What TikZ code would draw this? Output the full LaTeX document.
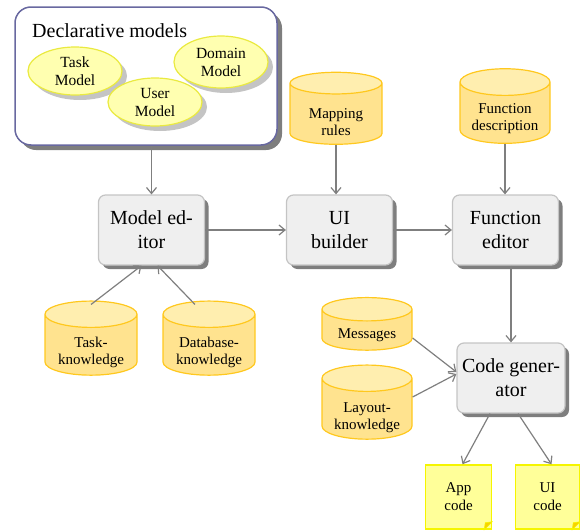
\documentclass[tikz,border=0pt]{standalone}
\usepackage{fontspec}
\setmainfont{Liberation Serif}
\usetikzlibrary{shapes.geometric,arrows.meta,shadows}
\definecolor{cylbody}{HTML}{FFE38F}
\definecolor{cyltop}{HTML}{FFEEAF}
\definecolor{cylline}{HTML}{FFC81E}
\definecolor{elfill}{HTML}{FFFFB0}
\definecolor{elline}{HTML}{EAEA40}
\definecolor{boxfill}{HTML}{EFEFEF}
\definecolor{boxline}{HTML}{C4C4C4}
\definecolor{shadowgray}{HTML}{7E7E7E}
\definecolor{lightshadow}{HTML}{C4C4C4}
\definecolor{declline}{HTML}{6868A0}
\definecolor{arrowgray}{HTML}{7F7F7F}
\definecolor{notefill}{HTML}{FFFF99}
\definecolor{noteline}{HTML}{F5F500}
\newcommand\cyltx[2]{\raisebox{-#1}[\height][\depth]{\begin{tabular}{@{}c@{}}#2\end{tabular}}}
\begin{document}
\begin{tikzpicture}[x=1pt,y=-1pt,
  proc/.style={rectangle, rounded corners=7pt, draw=boxline, line width=1.2pt, fill=boxfill,
    minimum width=106pt, minimum height=70pt, align=center, inner sep=2pt,
    font=\fontsize{20}{24}\selectfont,
    drop shadow={shadow xshift=4pt, shadow yshift=-4pt, opacity=1, fill=shadowgray}},
  cyl/.style={cylinder, shape border rotate=90, aspect=0.4, draw=cylline, line width=1.2pt,
    cylinder uses custom fill, cylinder body fill=cylbody, cylinder end fill=cyltop,
    align=center, inner sep=0pt, font=\fontsize{15}{17}\selectfont},
  ell/.style={ellipse, draw=elline, line width=1.2pt, fill=elfill, align=center, inner sep=0pt,
    minimum width=94pt, minimum height=48pt, font=\fontsize{15.5}{18}\selectfont,
    drop shadow={shadow xshift=5pt, shadow yshift=-5pt, opacity=1, fill=lightshadow}},
  note/.style={rectangle, draw=noteline, line width=1.5pt, fill=notefill, align=center,
    minimum width=66pt, minimum height=64pt, inner sep=0pt, font=\fontsize{15}{18}\selectfont},
  arr/.style={draw=arrowgray, line width=1.2pt, -{Straight Barb[length=6pt,width=10pt]}}
]
\useasboundingbox (0,0) rectangle (580,530);

% Declarative models container
\node[rectangle, rounded corners=16pt, draw=declline, line width=1.5pt, fill=white,
  minimum width=262pt, minimum height=138pt,
  drop shadow={shadow xshift=5pt, shadow yshift=-5pt, opacity=1, fill=shadowgray}]
  (decl) at (146,76) {};
\node[font=\fontsize{20}{24}\selectfont, anchor=base west, inner sep=0pt] (title) at (32,37) {Declarative models};
\node[ell] (task) at (75,71) {Task\\Model};
\node[ell] (user) at (155,102) {User\\Model};
\node[ell, minimum height=52pt] (domain) at (221,62) {Domain\\Model};

% Process boxes
\node[proc] (me) at (151.5,230) {Model ed-\\itor};
\node[proc] (ui) at (339.5,230) {UI\\builder};
\node[proc] (fe) at (505.5,230) {Function\\editor};
\node[proc, minimum width=108pt] (cg) at (511,378) {Code gener-\\ator};

% Cylinders
\node[cyl, minimum width=92pt, minimum height=72pt] (map) at (336,114) {\cyltx{10pt}{Mapping\\rules}};
\node[cyl, minimum width=90pt, minimum height=70pt] (fd) at (505,113) {\cyltx{6pt}{Function\\description}};
\node[cyl, minimum width=92pt, minimum height=66pt] (tk) at (91,345) {\cyltx{8pt}{Task-\\knowledge}};
\node[cyl, minimum width=92pt, minimum height=66pt] (db) at (209,345) {\cyltx{8pt}{Database-\\knowledge}};
\node[cyl, minimum width=90pt, minimum height=50pt] (msg) at (367,330) {\cyltx{5pt}{Messages}};
\node[cyl, minimum width=90pt, minimum height=68pt] (lay) at (367,409) {\cyltx{9pt}{Layout-\\knowledge}};

% Notes
\node[note] (app) at (458.5,497) {App\\code};
\node[note, minimum width=64pt] (uic) at (547.5,497) {UI\\code};
\foreach \n in {app,uic}{
  \filldraw[draw=noteline, fill=noteline!70!orange, line width=0.6pt]
    ([xshift=-8pt]\n.south east) -- ([yshift=8pt]\n.south east) -- ([xshift=-7pt,yshift=7pt]\n.south east) -- cycle;
}

% Arrows
\draw[arr] (decl.south -| me.north) -- (me.north);
\draw[arr] (me.east) -- (ui.west);
\draw[arr] (ui.east) -- (fe.west);
\draw[arr] (map.south) -- (map.south |- ui.north);
\draw[arr] (fd.south) -- (fd.south |- fe.north);
\draw[arr] (fe.south -| cg.north) -- (cg.north);
\draw[arr] ([yshift=-4pt]tk.north) -- ([xshift=-10pt]me.south);
\draw[arr] ([xshift=-14pt,yshift=-4pt]db.north) -- ([xshift=6pt]me.south);
\draw[arr] ([yshift=-8pt]msg.east) -- ([yshift=6pt]cg.west);
\draw[arr] ([yshift=12pt]lay.east) -- ([yshift=4pt]cg.west);
\draw[arr] ([xshift=-21pt]cg.south) -- ([xshift=4pt]app.north);
\draw[arr] ([xshift=7pt]cg.south) -- ([xshift=4pt]uic.north);
\end{tikzpicture}
\end{document}
